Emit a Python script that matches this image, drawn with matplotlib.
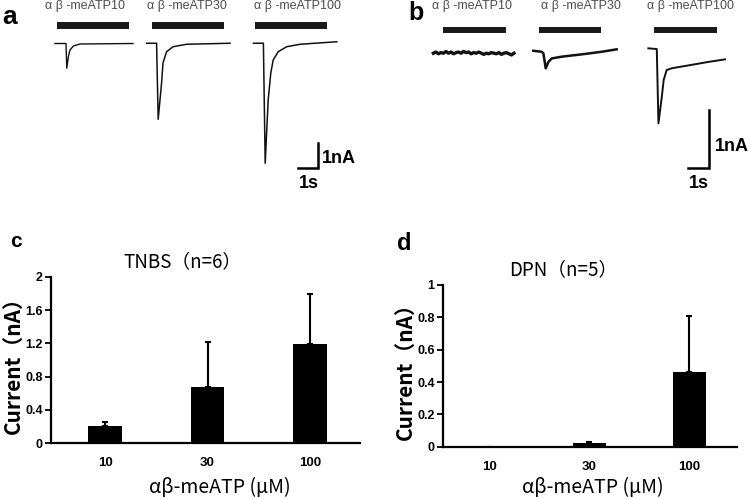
import numpy as np
import matplotlib
matplotlib.use('Agg')
import matplotlib.pyplot as plt

plt.rcParams['font.family'] = ['Liberation Sans', 'DejaVu Sans']
CJK = ['Noto Sans CJK SC', 'DejaVu Sans']

# ---- representative current traces (time in s from trace start, current in nA)
# panel a (TNBS)
a_labels = ['α β -meATP10', 'α β -meATP30', 'α β -meATP100']
a1_t = [0, 0.55, 0.59, 0.67, 0.75, 0.92, 1.25, 3.9]
a1_i = [0, 0, -0.99, -0.53, -0.26, -0.10, -0.02, 0.0]
a2_t = [0, 0.5, 0.58, 0.75, 0.82, 1.0, 1.32, 2.0, 4.17]
a2_i = [0.01, 0.01, -3.03, -1.58, -0.78, -0.33, -0.13, -0.03, 0.01]
a3_t = [0, 0.5, 0.59, 0.74, 0.87, 0.99, 1.24, 1.66, 2.34, 4.17]
a3_i = [0.01, 0.01, -4.79, -2.26, -1.18, -0.66, -0.33, -0.13, -0.03, 0.07]
a_stim_start = [0.1, 0.27, 0.09]
a_stim_dur = [3.6, 3.6, 3.6]

# panel b (DPN)
b_labels = ['α β -meATP10', 'α β -meATP30', 'α β -meATP100']
b1_t = [0, 0.12, 0.24, 0.36, 0.48, 0.6, 0.72, 0.84, 0.96, 1.08, 1.2, 1.32, 1.44,
        1.56, 1.68, 1.8, 1.92, 2.04, 2.16, 2.28, 2.4, 2.52, 2.64, 2.76, 2.88,
        3.0, 3.12, 3.24, 3.36, 3.48, 3.6, 3.72, 3.84]
b1_i = [-0.02, 0.0, -0.03, -0.01, -0.02, 0.01, -0.02, 0.0, -0.03, -0.01, 0.0, -0.02,
        0.01, -0.01, 0.0, -0.03, -0.01, -0.02, 0.0, -0.02, -0.04, -0.02, -0.03, -0.01,
        -0.02, -0.03, -0.01, -0.04, -0.02, -0.01, -0.03, -0.05, -0.02]
b2_t = [0, 0.4, 0.48, 0.59, 0.72, 0.88, 1.35, 2.3, 3.26, 3.97]
b2_i = [0.022, 0.005, -0.022, -0.28, -0.17, -0.11, -0.08, -0.04, 0.005, 0.047]
b3_t = [0, 0.4, 0.48, 0.64, 0.73, 0.87, 1.11, 2.07, 2.86, 3.65]
b3_i = [0.064, 0.052, -1.23, -0.77, -0.48, -0.31, -0.28, -0.22, -0.17, -0.126]
b_stim_start = [0.46, 0.27, 0.27]
b_stim_dur = [3.0, 2.95, 3.0]

# ---- summary data
conc = ['10', '30', '100']
tnbs_mean = [0.21, 0.67, 1.19]
tnbs_sem = [0.05, 0.55, 0.60]
dpn_mean = [0.0, 0.02, 0.46]
dpn_sem = [0.0, 0.01, 0.35]

fig = plt.figure(figsize=(7.5, 4.99), dpi=100)


def trace_panel(rect, traces, offsets, stim_start, stim_dur, labels, lab_x,
                xlim, ylim, stim_y, stim_h, lab_y, sb, lw):
    ax = fig.add_axes(rect)
    ax.set_xlim(*xlim)
    ax.set_ylim(*ylim)
    ax.axis('off')
    for k, (t, i) in enumerate(traces):
        ax.plot(np.array(t) + offsets[k], i, color='#111111', lw=lw[k])
        ax.barh(stim_y, stim_dur[k], left=offsets[k] + stim_start[k],
                height=stim_h, color='#1a1a1a')
        ax.text(offsets[k] + lab_x[k], lab_y, labels[k], ha='center', va='center',
                fontsize=9, color='#4d4d4d')
    # scale bar: 1 s, 1 nA
    x0, y0 = sb
    ax.plot([x0 - 1, x0, x0], [y0, y0, y0 + 1], color='black', lw=1.8,
            solid_joinstyle='miter')
    return ax


axa = trace_panel([0.0533, 0.5992, 0.4467, 0.4008],
                  [(a1_t, a1_i), (a2_t, a2_i), (a3_t, a3_i)],
                  [0.75, 5.33, 10.67], a_stim_start, a_stim_dur, a_labels,
                  [1.5, 2.04, 2.21], (0, 16.75), (-6.26, 1.74),
                  0.72, 0.28, 1.5, (13.9, -4.98), [1.0, 1.1, 1.1])
axa.text(14.1, -4.6, '1nA', fontsize=13, fontweight='bold', va='center', ha='left')
axa.text(13.45, -5.6, '1s', fontsize=13, fontweight='bold', va='center', ha='center')

axb = trace_panel([0.5, 0.5992, 0.5, 0.4008],
                  [(b1_t, b1_i), (b2_t, b2_i), (b3_t, b3_i)],
                  [2.78, 7.54, 13.02], b_stim_start, b_stim_dur, b_labels,
                  [1.84, 2.27, 1.99], (0, 17.86), (-2.55, 0.897),
                  0.385, 0.11, 0.79, (15.92, -2.0), [2.4, 1.8, 1.4])
axb.text(16.19, -1.62, '1nA', fontsize=13, fontweight='bold', va='center', ha='left')
axb.text(15.43, -2.27, '1s', fontsize=13, fontweight='bold', va='center', ha='center')


def bar_panel(rect, means, sems, yticks, yticklabels, ylim, xlim, title, title_x,
              xlabel_x):
    ax = fig.add_axes(rect)
    x = np.arange(len(conc))
    ax.bar(x, means, width=0.33, color='black')
    ax.errorbar(x, means, yerr=[np.zeros(len(sems)), sems], fmt='none',
                ecolor='black', elinewidth=1.5, capsize=2, capthick=1.5)
    ax.set_xlim(*xlim)
    ax.set_ylim(*ylim)
    ax.set_xticks(x)
    ax.set_xticklabels(conc, fontsize=9.5, fontweight='bold')
    ax.set_yticks(yticks)
    ax.set_yticklabels(yticklabels, fontsize=9, fontweight='bold')
    ax.tick_params(axis='x', length=0, pad=10)
    ax.tick_params(axis='y', length=4, width=1.3, pad=2)
    for s in ['top', 'right']:
        ax.spines[s].set_visible(False)
    for s in ['left', 'bottom']:
        ax.spines[s].set_linewidth(1.6)
    ax.set_xlabel('αβ-meATP (μM)', family=CJK, fontsize=14, labelpad=5)
    ax.xaxis.set_label_coords(xlabel_x, -0.2)
    ax.xaxis.label.set_va('center')
    ax.set_ylabel('Current（nA）', family=CJK, fontsize=15, fontweight='bold', labelpad=1)
    ax.text(title_x, 1.03, title, transform=ax.transAxes, family=CJK, fontsize=13.5,
            ha='center', va='bottom')
    return ax


axc = bar_panel([0.068, 0.112, 0.412, 0.333], tnbs_mean, tnbs_sem,
                [0, 0.4, 0.8, 1.2, 1.6, 2], ['0', '0.4', '0.8', '1.2', '1.6', '2'],
                (0, 2), (-0.53, 2.49), 'TNBS（n=6）', 0.424, 0.547)
axd = bar_panel([0.5907, 0.1048, 0.392, 0.3241], dpn_mean, dpn_sem,
                [0, 0.2, 0.4, 0.6, 0.8, 1], ['0', '0.2', '0.4', '0.6', '0.8', '1'],
                (0, 1), (-0.46, 2.48), 'DPN（n=5）', 0.41, 0.51)
# x label centred near y = 487 px in both panels
axc.xaxis.set_label_coords(0.547, -(487 - 443) / 166)
axd.xaxis.set_label_coords(0.51, -(487 - 446.7) / 161.7)

# panel letters
fig.text(0.003, 0.99, 'a', fontsize=19, fontweight='bold', va='top')
fig.text(0.545, 0.997, 'b', fontsize=18, fontweight='bold', va='top')
fig.text(0.013, 0.535, 'c', fontsize=15, fontweight='bold', va='top')
fig.text(0.530, 0.535, 'd', fontsize=17, fontweight='bold', va='top')

fig.savefig('out.png', dpi=100)
